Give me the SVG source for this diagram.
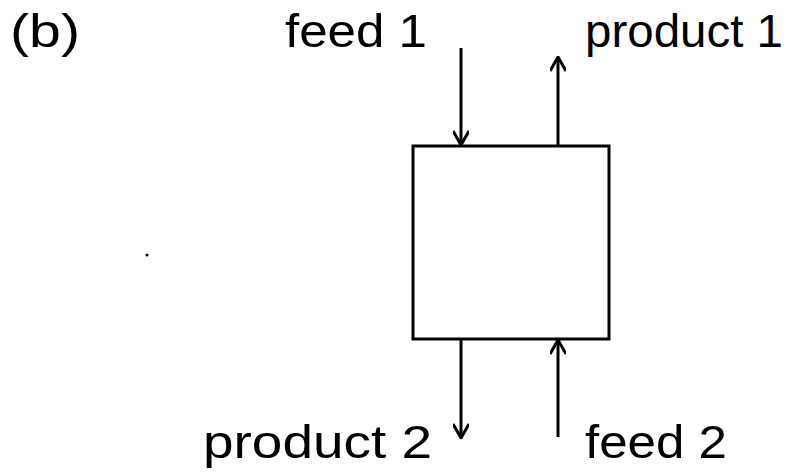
<svg xmlns="http://www.w3.org/2000/svg" width="793" height="474" viewBox="0 0 793 474">
<style>
text{font-family:"Liberation Sans","DejaVu Sans",sans-serif;font-size:46px;fill:#000}
.ln{stroke:#000;stroke-width:3;fill:none}
</style>
<defs>
<marker id="ah" viewBox="0 0 16 16" refX="15" refY="8" markerWidth="16" markerHeight="16" markerUnits="userSpaceOnUse" orient="auto">
<polyline points="1,0 15,8 1,16" fill="none" stroke="#000" stroke-width="3" stroke-linejoin="miter"/>
</marker>
</defs>
<rect width="793" height="474" fill="#fff"/>
<text x="10" y="47" textLength="70" lengthAdjust="spacingAndGlyphs">(b)</text>
<g id="unit">
<rect class="ln" x="413" y="146" width="196" height="193"/>
</g>
<g id="connectors">
<line class="ln" x1="461" y1="48" x2="461" y2="145" marker-end="url(#ah)"/>
<line class="ln" x1="558" y1="146" x2="558" y2="57" marker-end="url(#ah)"/>
<line class="ln" x1="461" y1="339" x2="461" y2="438" marker-end="url(#ah)"/>
<line class="ln" x1="558" y1="437" x2="558" y2="340" marker-end="url(#ah)"/>
</g>
<g id="feed1"><text x="285" y="47" textLength="142" lengthAdjust="spacingAndGlyphs">feed 1</text></g>
<g id="product1"><text x="585" y="47" textLength="198" lengthAdjust="spacingAndGlyphs">product 1</text></g>
<g id="product2"><text x="203" y="458" textLength="229" lengthAdjust="spacingAndGlyphs">product 2</text></g>
<g id="feed2"><text x="585" y="458" textLength="142" lengthAdjust="spacingAndGlyphs">feed 2</text></g>
<circle cx="147" cy="255" r="1.5" fill="#000"/>
</svg>
